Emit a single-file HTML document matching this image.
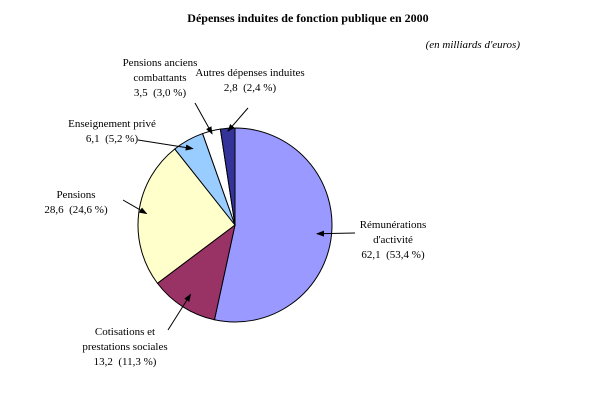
<!DOCTYPE html>
<html><head><meta charset="utf-8"><style>
body{margin:0;background:#fff;}
svg text{font-family:"Liberation Serif",serif;font-size:11px;fill:#000;white-space:pre;}
</style></head><body>
<svg width="616" height="414" xmlns="http://www.w3.org/2000/svg">
<defs><marker id="ah" markerWidth="8" markerHeight="6" refX="7" refY="3" orient="auto"><path d="M0,0 L8,3 L0,6z" fill="#000"/></marker></defs>
<text x="308" y="22" text-anchor="middle" style="font-weight:bold;font-size:12px">Dépenses induites de fonction publique en 2000</text>
<text x="520" y="48" text-anchor="end" style="font-style:italic">(en milliards d'euros)</text>
<g id="slices"></g>
<g id="labels"></g>
</svg>
<script>
const categories=["Rémunérations d'activité","Cotisations et prestations sociales","Pensions","Enseignement privé","Pensions anciens combattants","Autres dépenses induites"];
const values=[62.1,13.2,28.6,6.1,3.5,2.8];
const percents=["53,4 %","11,3 %","24,6 %","5,2 %","3,0 %","2,4 %"];
const valueLabels=["62,1","13,2","28,6","6,1","3,5","2,8"];
const colors=["#9999FF","#993366","#FFFFCC","#99CCFF","#FFFFFF","#333399"];
const cx=235,cy=225,r=97;
const ns="http://www.w3.org/2000/svg";
const total=values.reduce((a,b)=>a+b,0);
function pt(a,rr){return [cx+rr*Math.sin(a),cy-rr*Math.cos(a)];}
const g=document.getElementById('slices');
let a0=0;const mids=[];
values.forEach((v,i)=>{
 const a1=a0+v/total*2*Math.PI;
 const p0=pt(a0,r),p1=pt(a1,r);
 const p=document.createElementNS(ns,'path');
 p.setAttribute('d',`M${cx},${cy} L${p0[0]},${p0[1]} A${r},${r} 0 ${a1-a0>Math.PI?1:0} 1 ${p1[0]},${p1[1]} Z`);
 p.setAttribute('fill',colors[i]);p.setAttribute('stroke','#000');p.setAttribute('stroke-width','1');
 
 
 g.appendChild(p);
 mids.push((a0+a1)/2);a0=a1;
});
const lay=[
 {x:393,y:228,lines:["Rémunérations","d'activité",""],from:[355,233],rr:0.85},
 {x:125,y:335,lines:["Cotisations et","prestations sociales",""],from:[168,330],rr:0.85},
 {x:76,y:198,lines:["Pensions",""],from:[123,200],rr:0.92},
 {x:112,y:127,lines:["Enseignement privé",""],from:[138,140],rr:0.9},
 {x:160,y:66,lines:["Pensions anciens","combattants",""],from:[195,103],rr:0.97},
 {x:250,y:76,lines:["Autres dépenses induites",""],from:[248,108],rr:0.97}
];
const lg=document.getElementById('labels');
lay.forEach((L,i)=>{
 const t=document.createElementNS(ns,'text');
 t.setAttribute('text-anchor','middle');
 
 
 L.lines[L.lines.length-1]=valueLabels[i]+"  ("+percents[i]+")";
 L.lines.forEach((s,k)=>{const ts=document.createElementNS(ns,'tspan');ts.setAttribute('x',L.x);ts.setAttribute('y',L.y+k*15);ts.textContent=s;t.appendChild(ts);});
 lg.appendChild(t);
 const e=pt(mids[i],r*L.rr);
 const ln=document.createElementNS(ns,'line');
 ln.setAttribute('x1',L.from[0]);ln.setAttribute('y1',L.from[1]);ln.setAttribute('x2',e[0]);ln.setAttribute('y2',e[1]);
 ln.setAttribute('stroke','#000');ln.setAttribute('marker-end','url(#ah)');
 
 
 lg.appendChild(ln);
});
</script>
</body></html>
